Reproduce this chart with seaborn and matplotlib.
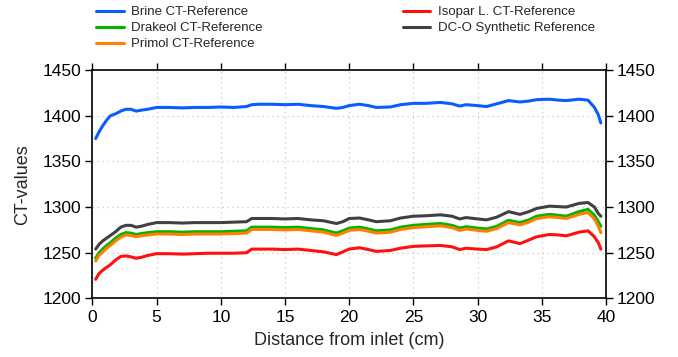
import matplotlib
matplotlib.use("Agg")
import matplotlib.pyplot as plt
import seaborn as sns
import pandas as pd

sns.set_style("ticks")
plt.rcParams['font.family'] = ['Liberation Sans', 'DejaVu Sans']

distance = [0.25, 0.5, 0.8, 1.1, 1.4, 1.8, 2.2, 2.6, 3.0, 3.4, 3.8, 4.3, 5, 6, 7, 8, 9, 10, 11, 12,
            12.4, 13, 14, 15, 16, 17, 18, 19, 19.5, 20, 20.8, 21.5, 22.1, 23.2, 24, 25, 26, 27.1, 28,
            28.6, 29.1, 30, 30.7, 31.5, 32.4, 33.3, 34, 34.6, 35.6, 36.3, 36.9, 37.9, 38.6, 39.1, 39.4, 39.6]

brine = [1375, 1382, 1389, 1395, 1400, 1402, 1405, 1407, 1407, 1405, 1406, 1407, 1409, 1409, 1408.5, 1409,
         1409, 1409.5, 1409, 1410, 1412, 1412.5, 1412.5, 1412, 1412.5, 1411, 1410, 1408, 1409, 1411, 1412.5,
         1411, 1409, 1409.5, 1412, 1413.5, 1413.5, 1414.5, 1413, 1410.5, 1412, 1411, 1410, 1413, 1416.5,
         1415, 1416, 1417.5, 1418, 1417, 1416.5, 1418, 1417, 1409, 1401, 1392]

drakeol = [1244, 1250, 1254, 1258, 1261, 1266, 1270, 1272, 1271.5, 1270, 1271, 1272, 1273, 1273, 1272.5,
           1273, 1273, 1273, 1273.5, 1274, 1278, 1278, 1278, 1277.5, 1278, 1276.5, 1275, 1271.5, 1274, 1277,
           1278, 1276, 1274, 1275, 1278, 1280, 1281, 1282, 1280, 1277, 1278.5, 1277, 1276, 1279, 1285.5,
           1283, 1286, 1290, 1292, 1291, 1290, 1295, 1297.5, 1291, 1284, 1279]

primol = [1241, 1247, 1251, 1255, 1258, 1263, 1267, 1269.5, 1269, 1267.5, 1268.5, 1269.5, 1270.5, 1270.5,
          1270, 1270.5, 1270.5, 1270.5, 1271, 1271.5, 1275.5, 1275.5, 1275.5, 1275, 1275.5, 1274, 1272.5,
          1269, 1271.5, 1274.5, 1275.5, 1273.5, 1271.5, 1272.5, 1275.5, 1277.5, 1278.5, 1279.5, 1277.5,
          1274.5, 1276, 1274.5, 1273.5, 1276.5, 1283, 1280.5, 1283.5, 1287.5, 1289.5, 1288.5, 1287.5, 1292,
          1294, 1287, 1279, 1272]

isopar = [1221, 1227, 1231, 1234, 1237, 1242, 1246, 1246.5, 1245.5, 1244, 1245, 1247, 1249, 1249, 1248.5,
          1249, 1249.5, 1249.5, 1249.5, 1250, 1254, 1254, 1254, 1253.5, 1254, 1252.5, 1251, 1248, 1251, 1254,
          1255.5, 1253.5, 1251.5, 1252.5, 1255, 1257, 1257.5, 1258, 1256.5, 1253.5, 1255, 1254, 1253.5,
          1256.5, 1263, 1260, 1264, 1267.5, 1270, 1269.5, 1268.5, 1272.5, 1274, 1267.5, 1261, 1254]

dco = [1254, 1259, 1263, 1266, 1269, 1273, 1278, 1280, 1280, 1278, 1279, 1281, 1283, 1283, 1282.5, 1283,
       1283, 1283, 1283.5, 1284, 1287.5, 1287.5, 1287.5, 1287, 1287.5, 1286, 1285, 1282, 1284, 1287.5, 1288,
       1286, 1284, 1285, 1288, 1290, 1290.5, 1291.5, 1290, 1287, 1288.5, 1287, 1286, 1289, 1295, 1292, 1295,
       1298.5, 1301, 1300.5, 1300, 1304, 1305, 1300, 1293, 1290]

labels = ["Brine CT-Reference", "Drakeol CT-Reference", "Primol CT-Reference",
          "Isopar L. CT-Reference", "DC-O Synthetic Reference"]
colors = ["#0A5CFF", "#00B400", "#FF8000", "#FF1010", "#404040"]
series = [brine, drakeol, primol, isopar, dco]

x_ticks = [0, 5, 10, 15, 20, 25, 30, 35, 40]
y_ticks = [1200, 1250, 1300, 1350, 1400, 1450]

rows = []
for lab, vals in zip(labels, series):
    for d, v in zip(distance, vals):
        rows.append({"Distance": d, "CT": v, "Series": lab})
df = pd.DataFrame(rows)

fig = plt.figure(figsize=(6.78, 3.57), dpi=100)
ax = fig.add_axes([0.1364, 0.164, 0.7574, 0.640])

for lab, col in zip(labels, colors):
    sns.lineplot(data=df[df["Series"] == lab], x="Distance", y="CT", color=col,
                 linewidth=2.2, ax=ax, label=lab, legend=False)

ax.set_xlim(0, 40)
ax.set_ylim(1200, 1450)
ax.set_xticks(x_ticks)
ax.set_yticks(y_ticks)
ax.grid(True, color="#c8c8c8", linestyle=(0, (1, 3)), linewidth=0.9)
ax.tick_params(axis="both", which="both", direction="out", length=5, width=1.0,
               top=True, right=True, labelright=True, labelsize=12.5, pad=3, colors="black")
for s in ax.spines.values():
    s.set_visible(True)
    s.set_linewidth(1.2)
    s.set_color("black")
ax.set_xlabel("Distance from inlet (cm)", fontsize=13, labelpad=5)
ax.set_ylabel("CT-values", fontsize=13, labelpad=8)

handles, labs = ax.get_legend_handles_labels()
fig.legend(handles, labs, ncol=2, loc="upper left", bbox_to_anchor=(0.138, 0.99),
           frameon=False, fontsize=9.5, handlelength=2.1, handletextpad=0.55,
           labelspacing=0.28, columnspacing=10.6, borderpad=0.2, borderaxespad=0)

fig.savefig("out.png", dpi=100)
